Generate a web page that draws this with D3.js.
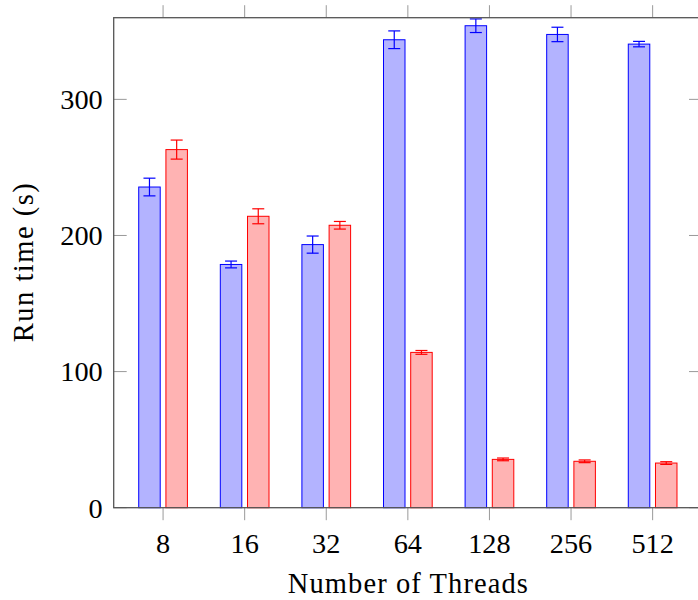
<!DOCTYPE html>
<html>
<head>
<meta charset="utf-8">
<script src="https://cdn.jsdelivr.net/npm/d3@7"></script>
<style>
  html, body { margin: 0; padding: 0; background: #fff; }
  svg { display: block; }
  text { font-family: "Liberation Serif", "Times New Roman", "DejaVu Serif", serif; fill: #000; }
</style>
</head>
<body>
<svg id="chart" width="698" height="600"></svg>
<script>
const categories = ["8", "16", "32", "64", "128", "256", "512"];
const blueValues = [235.6, 178.7, 193.3, 343.8, 354.1, 347.7, 340.6];
const blueErrors = [6.5, 2.5, 6.3, 6.5, 5.0, 5.3, 2.0];
const redValues  = [263.1, 214.1, 207.5, 114.1, 35.5, 34.1, 32.8];
const redErrors  = [7.0, 5.5, 2.8, 1.4, 1.0, 1.0, 1.0];
const yTicks = [0, 100, 200, 300];

(function () {
const svg = d3.select("#chart");
const pLeft = 113.7, pRight = 702, pTop = 17.7, pBottom = 507.7;

const x = d3.scalePoint().domain(categories).range([pLeft, pRight]).padding(0.605);
const y = d3.scaleLinear().domain([0, 360]).range([pBottom, pTop]);

const barW = 21.5, off = 13.6, capW = 12;

const series = [
  { values: blueValues, errors: blueErrors, fill: "rgb(179,179,255)", stroke: "rgb(0,0,255)", dx: -off },
  { values: redValues,  errors: redErrors,  fill: "rgb(255,179,179)", stroke: "rgb(255,0,0)", dx: off }
];

const tickColor = "#9a9a9a";
const g = svg.append("g");
g.selectAll(".xb").data(categories).enter().append("line")
  .attr("x1", d => x(d)).attr("x2", d => x(d))
  .attr("y1", pBottom).attr("y2", pBottom + 12.5)
  .attr("stroke", tickColor).attr("stroke-width", 1);
g.selectAll(".xt").data(categories).enter().append("line")
  .attr("x1", d => x(d)).attr("x2", d => x(d))
  .attr("y1", pTop).attr("y2", pTop - 12.5)
  .attr("stroke", tickColor).attr("stroke-width", 1);
g.selectAll(".yl").data(yTicks).enter().append("line")
  .attr("x1", pLeft).attr("x2", pLeft + 13)
  .attr("y1", d => y(d)).attr("y2", d => y(d))
  .attr("stroke", tickColor).attr("stroke-width", 1);
g.selectAll(".yr").data(yTicks).enter().append("line")
  .attr("x1", pRight).attr("x2", pRight - 13)
  .attr("y1", d => y(d)).attr("y2", d => y(d))
  .attr("stroke", tickColor).attr("stroke-width", 1);

series.forEach(s => {
  const sg = svg.append("g");
  sg.selectAll("rect").data(categories).enter().append("rect")
    .attr("x", d => x(d) + s.dx - barW / 2)
    .attr("y", (d, i) => y(s.values[i]))
    .attr("width", barW)
    .attr("height", (d, i) => y(0) - y(s.values[i]))
    .attr("fill", s.fill)
    .attr("stroke", s.stroke)
    .attr("stroke-width", 1);
  const eg = sg.selectAll(".err").data(categories).enter().append("g");
  eg.append("line")
    .attr("x1", d => x(d) + s.dx).attr("x2", d => x(d) + s.dx)
    .attr("y1", (d, i) => y(s.values[i] + s.errors[i]))
    .attr("y2", (d, i) => y(s.values[i] - s.errors[i]))
    .attr("stroke", s.stroke).attr("stroke-width", 1.2);
  [1, -1].forEach(sign => {
    eg.append("line")
      .attr("x1", d => x(d) + s.dx - capW / 2).attr("x2", d => x(d) + s.dx + capW / 2)
      .attr("y1", (d, i) => y(s.values[i] + sign * s.errors[i]))
      .attr("y2", (d, i) => y(s.values[i] + sign * s.errors[i]))
      .attr("stroke", s.stroke).attr("stroke-width", 1.2);
  });
});

svg.append("rect")
  .attr("x", pLeft).attr("y", pTop)
  .attr("width", pRight - pLeft).attr("height", pBottom - pTop)
  .attr("fill", "none").attr("stroke", "#555").attr("stroke-width", 1.3);

svg.selectAll(".ylab").data(yTicks).enter().append("text")
  .attr("x", pLeft - 11)
  .attr("y", d => y(d) + 9.8)
  .attr("text-anchor", "end")
  .attr("font-size", 28.3)
  .text(d => d);

svg.selectAll(".xlab").data(categories).enter().append("text")
  .attr("x", d => x(d))
  .attr("y", 553)
  .attr("text-anchor", "middle")
  .attr("font-size", 28.3)
  .text(d => d);

svg.append("text")
  .attr("x", (pLeft + pRight) / 2).attr("y", 592.5)
  .attr("text-anchor", "middle")
  .attr("font-size", 28.5)
  .attr("textLength", 240)
  .attr("lengthAdjust", "spacing")
  .text("Number of Threads");

svg.append("text")
  .attr("transform", `translate(32.7,${(pTop + pBottom) / 2}) rotate(-90)`)
  .attr("text-anchor", "middle")
  .attr("font-size", 28.5)
  .attr("textLength", 159)
  .attr("lengthAdjust", "spacing")
  .text("Run time (s)");
})();
</script>
</body>
</html>
